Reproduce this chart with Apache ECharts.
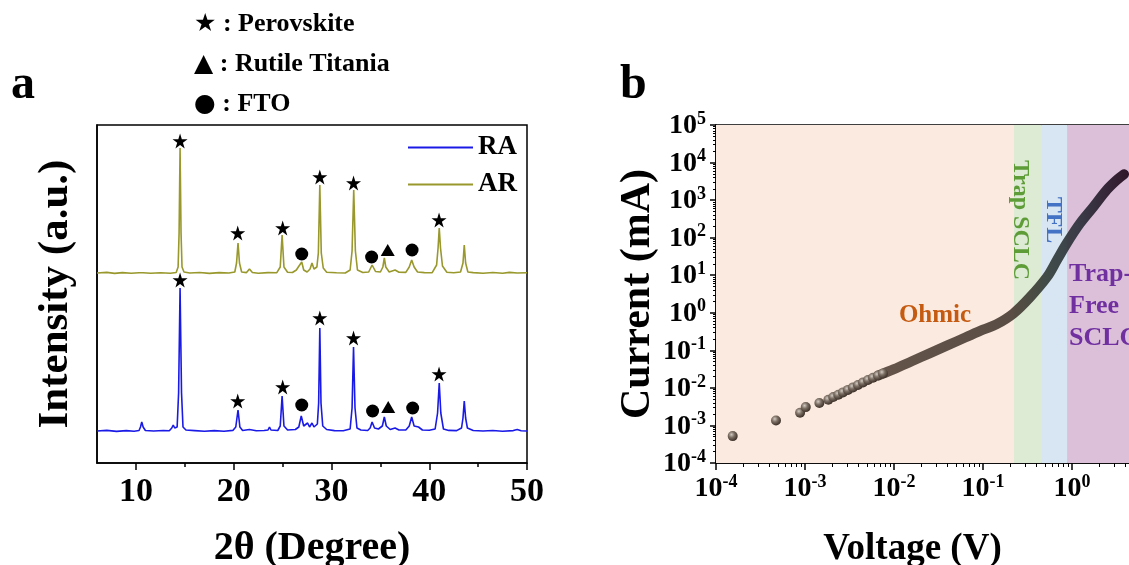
<!DOCTYPE html>
<html><head><meta charset="utf-8">
<script src="https://cdn.jsdelivr.net/npm/echarts@6/dist/echarts.min.js"></script>
<style>html,body{margin:0;padding:0;background:#fff}#c{width:1129px;height:565px}</style>
</head><body><div id="c"></div>
<script>
// ---------- Panel a : XRD patterns (2θ in degrees, intensity in a.u., stacked) ----------
const xrdTicks = [10, 20, 30, 40, 50];
const xrdMinorTicks = [15, 25, 35, 45];
const raPattern = [[6,32],[7,32.6],[8,31.6],[9,32.4],[9.8,31.8],[10.3,32.5],[10.45,36],[10.58,41],[10.72,36],[10.95,32.5],[11.8,32],[12.8,32.5],[13.4,32.3],[13.65,35],[13.8,38],[13.95,35],[14.2,36],[14.35,70],[14.5,175],[14.65,70],[14.8,36],[15.1,33],[16,32.4],[17,31.7],[18,32.4],[19,31.8],[19.9,32.6],[20.2,36],[20.43,53],[20.62,36],[20.9,32.5],[21.6,33.5],[22.3,32.2],[23.1,32.5],[23.5,33],[23.65,36],[23.8,33],[24.5,32.5],[24.75,37],[24.94,67],[25.13,37],[25.5,33],[26.3,33.5],[26.65,36],[26.9,47],[27.15,37],[27.35,36],[27.55,40],[27.75,36],[28.0,40],[28.2,36],[28.55,39],[28.68,60],[28.8,135],[28.92,60],[29.1,37],[29.5,33.5],[30.3,32.4],[31.2,32.2],[31.9,34],[32.1,55],[32.25,116],[32.4,55],[32.6,35],[33,33],[33.7,32.5],[33.95,35],[34.15,41],[34.4,35],[34.8,34],[35.2,37],[35.4,46],[35.6,37],[36.0,33.5],[36.5,35],[36.9,33],[37.6,33],[37.95,37],[38.2,46],[38.45,37],[38.9,36],[39.3,33],[40.0,32.7],[40.6,34],[40.85,50],[41.02,80],[41.18,50],[41.45,34],[42.0,32.6],[42.8,32.4],[43.3,35],[43.45,45],[43.58,62],[43.72,45],[43.9,35],[44.5,32.5],[45.5,32],[46.5,32.5],[47.5,31.8],[48.6,32.4],[49.0,33.5],[49.4,32.3],[50,32]];
const arPattern = [[6,190],[7,190.6],[7.8,189.6],[8.6,190.4],[9.5,189.8],[10.3,190.3],[10.5,192],[10.7,190.2],[11.5,189.7],[12.5,190.3],[13.5,189.8],[14.1,190.5],[14.3,196],[14.4,230],[14.5,315],[14.6,230],[14.7,196],[14.9,191],[15.5,190],[16.5,190.5],[17.5,189.6],[18.5,190.4],[19.5,190],[20.1,191],[20.28,200],[20.43,220],[20.58,200],[20.8,191],[21.3,190.4],[21.6,194],[21.9,190.5],[22.5,189.7],[23.5,190.4],[24.4,190.3],[24.75,196],[24.94,228],[25.13,196],[25.5,190.8],[26.0,190.5],[26.4,193],[26.6,196],[26.75,194],[26.95,201],[27.15,193],[27.5,191],[27.8,194],[28.0,200],[28.2,194],[28.5,196],[28.65,210],[28.8,278],[28.95,210],[29.15,195],[29.5,190.8],[30.5,190.3],[31.4,190],[31.9,193],[32.1,212],[32.27,273],[32.44,212],[32.65,193],[33.2,190.5],[33.8,191],[34.15,198],[34.5,191.5],[35.0,191],[35.25,196],[35.4,205],[35.55,196],[35.9,191],[36.5,193],[36.9,190.8],[37.6,190.6],[37.95,196],[38.2,203],[38.45,196],[38.8,191],[39.5,190.4],[40.3,190.3],[40.75,198],[40.9,215],[41.02,235],[41.15,215],[41.35,197],[41.8,190.8],[42.5,190.3],[43.2,191],[43.45,200],[43.58,218],[43.72,200],[43.95,191],[44.5,190.4],[45.5,189.8],[46.5,190.5],[47.5,189.7],[48.2,190.6],[49,190],[50,190.3]];
// phase marks above peaks
const perovskiteMarks = [[14.5,322],[20.4,230],[25.0,235],[28.8,286],[32.25,280],[41.0,243],[14.5,183],[20.4,62],[25.0,76],[28.8,145],[32.25,125],[41.0,89]];
const rutileMarks = [[35.75,213],[35.8,56]];
const ftoMarks = [[26.95,209],[34.1,206],[38.24,213],[26.95,58],[34.2,52],[38.3,55]];
const keyLines = ['★ : Perovskite', '▲ : Rutile Titania', '● : FTO'];

// ---------- Panel b : I-V curve (log-log) ----------
const bandNames = ['Ohmic', 'Trap SCLC', 'TFL', 'Trap-Free SCLC'];
const bandStart = [1e-4, 0.223, 0.449, 0.88];
const bandEnd = [0.223, 0.449, 0.88, 10];
const bandColors = ['#FBEADF', '#DDEBD5', '#D8E6F3', '#DCC0DA'];
const ivSparse = [[1.54e-4,5.2e-4],[4.72e-4,1.36e-3],[8.8e-4,2.18e-3],[1.02e-3,3.08e-3],[1.45e-3,3.94e-3],[1.83e-3,4.84e-3],[2.08e-3,5.69e-3],[2.37e-3,6.59e-3],[2.67e-3,7.59e-3],[3.04e-3,8.85e-3],[3.46e-3,1.03e-2],[3.94e-3,1.20e-2],[4.49e-3,1.40e-2],[5.11e-3,1.63e-2],[5.81e-3,1.87e-2],[6.61e-3,2.13e-2],[7.52e-3,2.41e-2]];
const ivDense = [[6.61e-3,2.13e-2],[7.52e-3,2.41e-2],[1.0e-2,3.16e-2],[1.585e-2,5.13e-2],[2.51e-2,8.32e-2],[3.98e-2,0.135],[6.31e-2,0.219],[0.1,0.355],[0.141,0.490],[0.219,0.955],[0.339,2.63],[0.525,9.02],[0.676,25.1],[0.871,70],[1.23,240],[1.74,661],[2.45,1862],[3.16,3388],[3.84,4898]];
const voltageTicks = [1e-4, 1e-3, 1e-2, 1e-1, 1, 10];
const voltageTickExp = ['-4', '-3', '-2', '-1', '0', '1'];
const currentTicks = [1e-4, 1e-3, 1e-2, 1e-1, 1, 10, 100, 1e3, 1e4, 1e5];
const currentTickExp = ['-4', '-3', '-2', '-1', '0', '1', '2', '3', '4', '5'];

const F = '"Liberation Serif", "Times New Roman", serif';
const STAR = 'path://M50,0 L61.2,34.5 L97.6,34.5 L68.2,55.9 L79.4,90.5 L50,69.1 L20.6,90.5 L31.8,55.9 L2.4,34.5 L38.8,34.5 Z';

function expLabel(ticks, exps) {
  return function (v) {
    let best = 0;
    for (let i = 0; i < ticks.length; i++) {
      if (Math.abs(Math.log10(ticks[i]) - Math.log10(v)) < Math.abs(Math.log10(ticks[best]) - Math.log10(v))) best = i;
    }
    return '{b|10}{e|' + exps[best] + '}';
  };
}
const expRich = {
  b: { fontFamily: F, fontWeight: 'bold', fontSize: 28, color: '#000', lineHeight: 30, verticalAlign: 'bottom' },
  e: { fontFamily: F, fontWeight: 'bold', fontSize: 18, color: '#000', lineHeight: 18, verticalAlign: 'top' }
};
const sphere = {
  type: 'radial', x: 0.38, y: 0.35, r: 0.65,
  colorStops: [{ offset: 0, color: '#d2cac2' }, { offset: 0.45, color: '#7c6f64' }, { offset: 1, color: '#3d3129' }]
};

const chart = echarts.init(document.getElementById('c'), null, { renderer: 'canvas' });
chart.setOption({
  backgroundColor: '#fff',
  animation: false,
  textStyle: { fontFamily: F },
  grid: [
    { left: 97, top: 125, width: 430, height: 338, show: true, borderColor: '#000', borderWidth: 1.5, backgroundColor: 'transparent', outerBoundsMode: 'none', containLabel: false },
    { left: 716, top: 125, width: 445, height: 338, show: true, borderColor: '#000', borderWidth: 1.5, backgroundColor: 'transparent', outerBoundsMode: 'none', containLabel: false }
  ],
  legend: {
    data: [{ name: 'RA' }, { name: 'AR' }],
    orient: 'vertical', left: 403, top: 128, itemWidth: 65, itemHeight: 2, itemGap: 8,
    icon: 'rect',
    textStyle: { fontFamily: F, fontWeight: 'bold', fontSize: 27, color: '#000', lineHeight: 29 }
  },
  xAxis: [
    {
      type: 'value', gridIndex: 0, min: 6, max: 50,
      name: '2θ (Degree)', nameLocation: 'middle', nameGap: 66,
      nameTextStyle: { fontFamily: F, fontWeight: 'bold', fontSize: 40, color: '#000' },
      axisLine: { show: true, lineStyle: { color: '#000', width: 1.5 } },
      axisTick: { show: true, length: 7, customValues: xrdTicks, lineStyle: { color: '#000', width: 1.5 } },
      axisLabel: { customValues: xrdTicks, margin: 12, fontFamily: F, fontWeight: 'bold', fontSize: 34, color: '#000' },
      splitLine: { show: false }
    },
    {
      type: 'value', gridIndex: 0, min: 6, max: 50, position: 'bottom',
      axisLine: { show: false },
      axisTick: { show: true, length: 4, customValues: xrdMinorTicks, lineStyle: { color: '#000', width: 1.5 } },
      axisLabel: { show: false }, splitLine: { show: false }
    },
    {
      type: 'log', gridIndex: 1, logBase: 10, min: 1e-4, max: 10, splitNumber: 5,
      name: 'Voltage (V)', nameLocation: 'middle', nameGap: 68,
      nameTextStyle: { fontFamily: F, fontWeight: 'bold', fontSize: 37, color: '#000', padding: [0, 52, 0, 0] },
      axisLine: { show: true, lineStyle: { color: '#000', width: 1.5 } },
      axisTick: { show: true, length: 7, lineStyle: { color: '#000', width: 1.5 } },
      minorTick: { show: true, splitNumber: 9, length: 4, lineStyle: { color: '#000', width: 1 } },
      axisLabel: { margin: 10, formatter: expLabel(voltageTicks, voltageTickExp), rich: expRich },
      splitLine: { show: false }, minorSplitLine: { show: false }
    }
  ],
  yAxis: [
    {
      type: 'value', gridIndex: 0, min: 0, max: 338,
      name: 'Intensity (a.u.)', nameLocation: 'middle', nameGap: 20, nameRotate: 90,
      nameTextStyle: { fontFamily: F, fontWeight: 'bold', fontSize: 43, color: '#000' },
      axisLine: { show: true, lineStyle: { color: '#000', width: 1.5 } },
      axisTick: { show: false }, axisLabel: { show: false }, splitLine: { show: false }
    },
    {
      type: 'log', gridIndex: 1, logBase: 10, min: 1e-4, max: 1e5, splitNumber: 9,
      name: 'Current (mA)', nameLocation: 'middle', nameGap: 55, nameRotate: 90,
      nameTextStyle: { fontFamily: F, fontWeight: 'bold', fontSize: 42, color: '#000' },
      axisLine: { show: true, lineStyle: { color: '#000', width: 1.5 } },
      axisTick: { show: true, length: 6, lineStyle: { color: '#000', width: 1.5 } },
      minorTick: { show: true, splitNumber: 9, length: 3, lineStyle: { color: '#000', width: 1 } },
      axisLabel: { margin: 10, formatter: expLabel(currentTicks, currentTickExp), rich: expRich },
      splitLine: { show: false }, minorSplitLine: { show: false }
    }
  ],
  series: [
    { name: 'AR', type: 'line', xAxisIndex: 0, yAxisIndex: 0, data: arPattern, showSymbol: false, symbol: 'none',
      lineStyle: { color: '#98982c', width: 1.6 }, itemStyle: { color: '#98982c' } },
    { name: 'RA', type: 'line', xAxisIndex: 0, yAxisIndex: 0, data: raPattern, showSymbol: false, symbol: 'none',
      lineStyle: { color: '#1a1ae6', width: 1.6 }, itemStyle: { color: '#1a1ae6' } },
    { name: 'Perovskite', type: 'scatter', xAxisIndex: 0, yAxisIndex: 0, data: perovskiteMarks, symbol: STAR, symbolSize: 15, itemStyle: { color: '#000', opacity: 1 }, z: 5 },
    { name: 'Rutile Titania', type: 'scatter', xAxisIndex: 0, yAxisIndex: 0, data: rutileMarks, symbol: 'triangle', symbolSize: [14, 12], itemStyle: { color: '#000', opacity: 1 }, z: 5 },
    { name: 'FTO', type: 'scatter', xAxisIndex: 0, yAxisIndex: 0, data: ftoMarks, symbol: 'circle', symbolSize: 13, itemStyle: { color: '#000', opacity: 1 }, z: 5 },
    {
      name: 'IV sparse', type: 'scatter', xAxisIndex: 2, yAxisIndex: 1, data: ivSparse, symbol: 'circle', symbolSize: 10,
      itemStyle: { color: sphere, opacity: 1 }, z: 4,
      markArea: {
        silent: true,
        data: bandNames.map((n, i) => [{ xAxis: bandStart[i], itemStyle: { color: bandColors[i], opacity: 1 } }, { xAxis: bandEnd[i] }]),
        label: { show: false }
      }
    },
    {
      name: 'IV dense', type: 'line', xAxisIndex: 2, yAxisIndex: 1, data: ivDense, smooth: 0.35, showSymbol: false, symbol: 'none', z: 3,
      lineStyle: {
        width: 10, cap: 'round',
        color: { type: 'linear', x: 0, y: 0, x2: 1, y2: 0, colorStops: [
          { offset: 0, color: 'rgba(88,72,62,0.92)' }, { offset: 0.55, color: 'rgba(72,60,52,0.9)' },
          { offset: 0.68, color: 'rgba(38,48,42,0.85)' }, { offset: 0.8, color: 'rgba(36,42,52,0.88)' },
          { offset: 1, color: 'rgba(40,12,32,0.95)' }] }
      }
    }
  ],
  graphic: [
    { type: 'text', left: 11, top: 62, z: 50, style: { text: 'a', font: 'bold 48px ' + F, fill: '#000' } },
    { type: 'text', left: 620, top: 62, z: 50, style: { text: 'b', font: 'bold 48px ' + F, fill: '#000' } },
    ...keyLines.map((t, i) => ({ type: 'text', left: 194, top: 11 + i * 40, z: 50, style: {
      text: '{s|' + t.slice(0, 1) + '}{t|' + t.slice(1) + '}',
      rich: { s: { font: '25px "DejaVu Sans"', fill: '#000', lineHeight: 30 }, t: { font: 'bold 26px ' + F, fill: '#000', lineHeight: 30 } } } })),
    { type: 'text', x: 935, y: 316, z: 50, style: { text: 'Ohmic', font: 'bold 25px ' + F, fill: '#C55A11', align: 'center', verticalAlign: 'middle' } },
    { type: 'text', x: 1020, y: 220, rotation: -Math.PI / 2, z: 50, style: { text: 'Trap SCLC', font: 'bold 24px ' + F, fill: '#5E9C38', align: 'center', verticalAlign: 'middle' } },
    { type: 'text', x: 1053, y: 220, rotation: -Math.PI / 2, z: 50, style: { text: 'TFL', font: 'bold 24px ' + F, fill: '#4472C4', align: 'center', verticalAlign: 'middle' } },
    { type: 'text', x: 1069, y: 258, z: 50, style: { text: 'Trap-\nFree\nSCLC', font: 'bold 26px ' + F, lineHeight: 32, fill: '#7030A0', align: 'left', verticalAlign: 'top' } }
  ]
});
</script></body></html>
